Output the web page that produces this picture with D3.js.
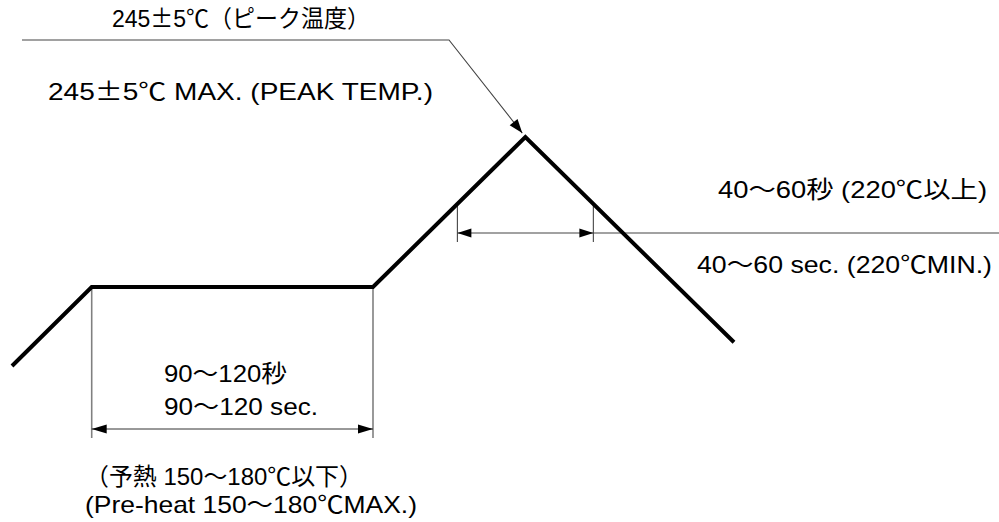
<!DOCTYPE html>
<html>
<head>
<meta charset="utf-8">
<script src="https://cdn.jsdelivr.net/npm/d3@7"></script>
<style>
  html, body { margin: 0; padding: 0; background: #fff; }
  svg { display: block; }
  text { font-family: "Liberation Sans", Arial, "Noto Sans CJK JP", sans-serif; fill: #000; }
  tspan.cjk { font-family: "Noto Sans CJK JP", sans-serif; }
</style>
</head>
<body>
<svg id="chart" width="999" height="522"></svg>
<script>
// ---- data (schematic reflow profile) ----
const profileTimes = [0, 34, 154, 219, 308];        // seconds
const profileTemps = [130, 170, 170, 245, 142];     // °C
const preheatSpan  = [34, 154];                     // preheat window (s)
const aboveSpan    = [190, 248];                    // time above 220°C (s)
const aboveTemp    = 220;
const peak         = [219, 245];
const labelsPeak   = ["245±5℃（ピーク温度）", "245±5℃  MAX. (PEAK TEMP.)"];
const labelsAbove  = ["40〜60秒  (220℃以上)", "40〜60 sec. (220℃MIN.)"];
const labelsPreTime = ["90〜120秒", "90〜120 sec."];
const labelsPreTemp = ["（予熱  150〜180℃以下）", "(Pre-heat 150〜180℃MAX.)"];

// ---- scales ----
const x = d3.scaleLinear().domain([0, 308]).range([12, 734]);
const y = d3.scaleLinear().domain([130, 170, 220, 245]).range([366, 287, 204, 137]);

const svg = d3.select("#chart");

// helper: filled arrowhead with tip at (tx,ty) pointing in direction (dx,dy)
function arrowHead(g, tx, ty, dx, dy, len, half) {
  const n = Math.hypot(dx, dy); dx /= n; dy /= n;
  const bx = tx - dx * len, by = ty - dy * len;
  const px = -dy * half, py = dx * half;
  g.append("path")
    .attr("d", `M${tx},${ty}L${bx + px},${by + py}L${bx - px},${by - py}Z`)
    .attr("fill", "#000");
}

// ---- preheat dimension ----
const preY = 429;
const gPre = svg.append("g");
preheatSpan.forEach(t => {
  gPre.append("line")
    .attr("x1", x(t)).attr("x2", x(t))
    .attr("y1", y(170)).attr("y2", preY + 9)
    .attr("stroke", "#808080").attr("stroke-width", 1.6);
});
gPre.append("line")
  .attr("x1", x(preheatSpan[0])).attr("x2", x(preheatSpan[1]))
  .attr("y1", preY).attr("y2", preY)
  .attr("stroke", "#333").attr("stroke-width", 1);
arrowHead(gPre, x(preheatSpan[0]), preY, -1, 0, 15, 4.5);
arrowHead(gPre, x(preheatSpan[1]), preY, 1, 0, 15, 4.5);

// ---- time above 220 dimension ----
const aboveY = 233;
const gAb = svg.append("g");
aboveSpan.forEach(t => {
  gAb.append("line")
    .attr("x1", x(t)).attr("x2", x(t))
    .attr("y1", y(aboveTemp)).attr("y2", aboveY + 9)
    .attr("stroke", "#444").attr("stroke-width", 1.1);
});
gAb.append("line")
  .attr("x1", x(aboveSpan[0])).attr("x2", 999)
  .attr("y1", aboveY).attr("y2", aboveY)
  .attr("stroke", "#444").attr("stroke-width", 1.1);
arrowHead(gAb, x(aboveSpan[0]), aboveY, -1, 0, 14, 4.5);
arrowHead(gAb, x(aboveSpan[1]), aboveY, 1, 0, 14, 4.5);

// ---- peak leader ----
const leadY = 40, leadX0 = 22, leadX1 = 449;
const px = x(peak[0]), py = y(peak[1]);
const ddx = px - leadX1, ddy = py - leadY, dn = Math.hypot(ddx, ddy);
const tipX = px - ddx / dn * 5, tipY = py - ddy / dn * 5;
svg.append("path")
  .attr("d", `M${leadX0},${leadY}L${leadX1},${leadY}L${tipX},${tipY}`)
  .attr("fill", "none").attr("stroke", "#444").attr("stroke-width", 1.1);
arrowHead(svg, tipX, tipY, ddx, ddy, 14, 5);

// ---- profile ----
const line = d3.line().x(d => x(d[0])).y(d => y(d[1]));
svg.append("path")
  .datum(d3.zip(profileTimes, profileTemps))
  .attr("d", line)
  .attr("fill", "none").attr("stroke", "#000").attr("stroke-width", 4)
  .attr("stroke-linejoin", "miter");

// ---- labels ----
function label(txt, lx, ly, w) {
  const t = svg.append("text")
    .attr("x", lx).attr("y", ly)
    .attr("font-size", 24)
    .attr("textLength", w).attr("lengthAdjust", "spacingAndGlyphs");
  // render "±" with the CJK font (wide form as in the reference)
  txt.split(/(±)/).filter(s => s.length).forEach(part => {
    const sp = t.append("tspan").text(part);
    if (part === "±") sp.attr("class", "cjk");
  });
}
label(labelsPeak[0], 112, 27, 258);
label(labelsPeak[1], 48, 100, 385);
label(labelsAbove[0], 718, 198, 269);
label(labelsAbove[1], 697, 273, 295);
label(labelsPreTime[0], 164, 382, 123);
label(labelsPreTime[1], 164, 415, 154);
label(labelsPreTemp[0], 85, 485, 278);
label(labelsPreTemp[1], 85, 513, 332);
</script>
</body>
</html>
